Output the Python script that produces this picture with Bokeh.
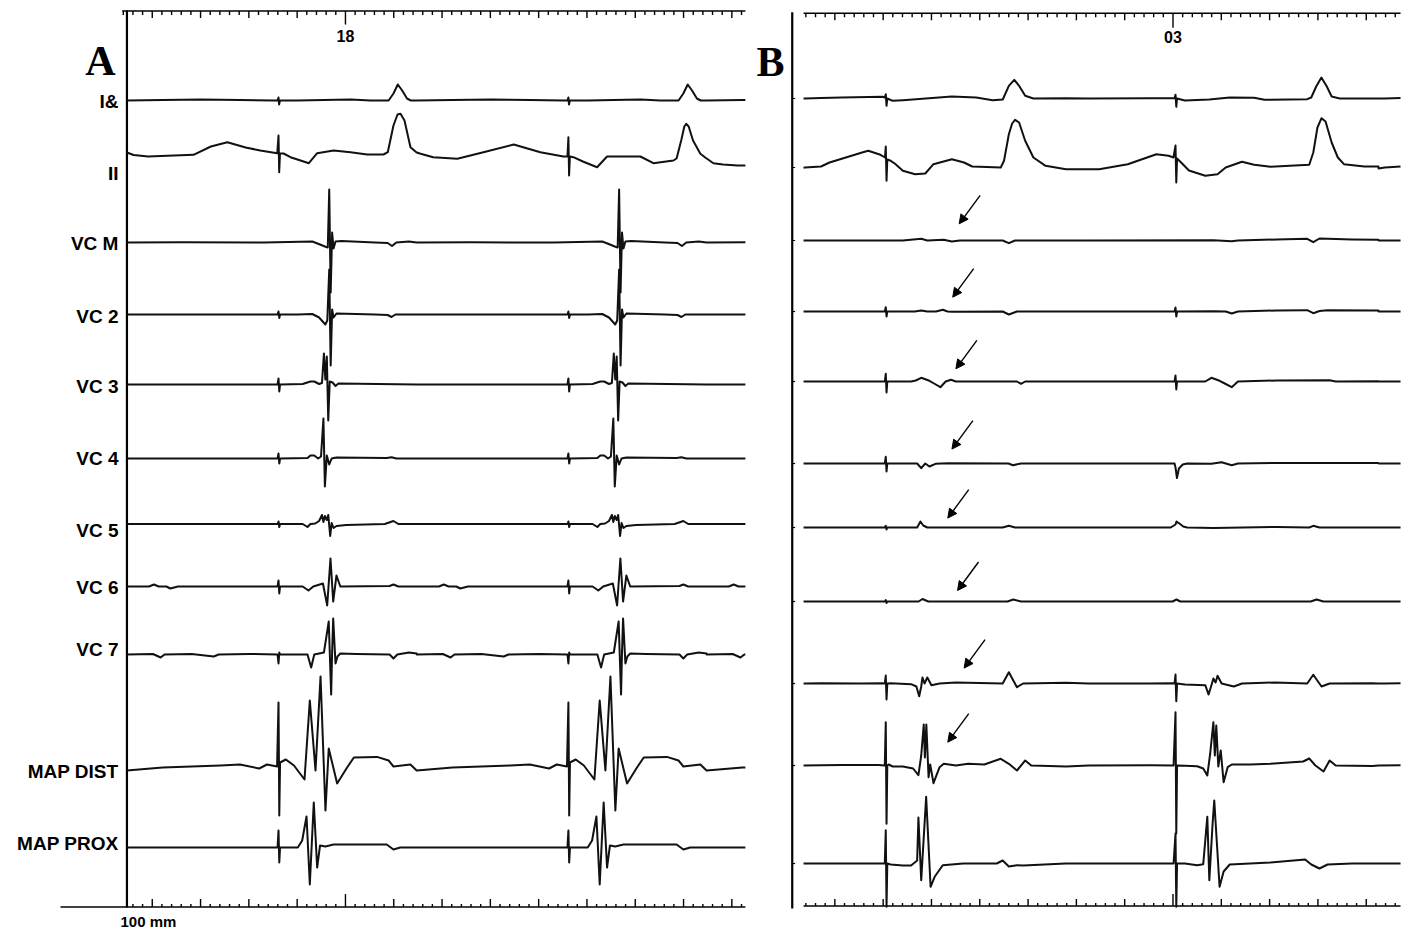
import numpy as np
from bokeh.plotting import figure
from bokeh.layouts import row
from bokeh.models import Range1d, ColumnDataSource, Arrow, NormalHead
from bokeh.core.properties import value
from bokeh.embed import file_html
from bokeh.resources import INLINE

# ---------------- data (time in ms, amplitude in mm of paper) ----------------
CHANNELS = ["I&", "II", "VC M", "VC 2", "VC 3", "VC 4", "VC 5", "VC 6", "VC 7", "MAP DIST", "MAP PROX"]

# panel A: pacing stimulus times (ms, 0 = the "18" mark); beat templates per lead
A_BEATS = [-69.3, 230.8, 530.9]
A_I = [(-157,0),(-120,0.05),(-80,0.1),(-40,0.05),(-5,0),(-1,0),(0,0.3),(0.6,-0.4),(1.5,0),(20,0),(60,0.08),(75,0.1),(95,0),(114,0),(119,0.7),(123.5,1.6),(128,1.0),(133,0.2),(137,0),(143,0)]
A_II = [(-157,0.3),(-150,0.05),(-135,-0.1),(-88,0.07),(-70,0.9),(-53,1.33),(-34,0.8),(-19,0.5),(-1.3,0.23),(0,2.0),(0.7,-1.67),(1.5,0.2),(5.2,0.2),(12.4,-0.17),(22.8,-0.5),(31.4,-0.77),(40,0.23),(57,0.5),(74.5,0.33),(91.8,0.1),(108.7,0.1),(113.1,0.33),(119,3.0),(123.2,4.1),(126.3,4.17),(130.4,3.5),(136.6,0.83),(143,0.3)]
A_II2 = [(-157,0.3),(-153,0.17),(-140,-0.17),(-115,-0.33),(-88,0.33),(-56.6,1.1),(-29,0.33),(-5.2,-0.1),(-1,-0.1),(0,1.83),(0.7,-2.0),(1.5,-0.1),(5.2,-0.17),(15,-0.6),(29.7,-1.17),(40,-0.1),(74.5,-0.1),(88,-0.77),(108.7,-0.5),(112,-0.3),(117,1.6),(120,2.9),(122,3.17),(124.5,2.9),(129,1.5),(136.6,0.17),(143,-0.3)]
A_II3 = [(-157,-0.3),(-150,-0.77),(-140,-0.9),(-125,-1.0),(-100,-1.0),(143,0)]
A_VCM = [(-157,0),(-100,0.02),(-15,0),(35,0.1),(43,-0.2),(48,-0.4),(51,-0.5),(52.5,5.3),(54,-5.0),(55.5,1.0),(57,-0.6),(59,0.1),(65,0.15),(100,0),(113,-0.05),(117.5,-0.35),(122,0),(135,0.1),(143,0)]
A_VC2 = [(-157,0),(-1,0),(0,0.3),(0.8,-0.35),(1.6,0),(20,0),(35,0.05),(42,-0.3),(48.5,-1.0),(50.5,-0.6),(52.5,4.5),(54,-5.1),(55.5,0.5),(57,-0.3),(60,0.1),(100,0),(113,-0.05),(117,-0.25),(121,0),(143,0)]
A_VC3 = [(-157,0),(-1,0),(0,0.6),(0.8,-0.7),(1.6,0),(25,0.05),(33,0.3),(37,0.3),(42,0.05),(45,0.15),(47,3.1),(48.5,0.5),(50,2.8),(51.5,-3.6),(53,0.3),(56,0.2),(59,-0.15),(62,0.1),(143,0)]
A_VC4 = [(-157,0),(-1,0),(0,0.5),(0.8,-0.5),(1.6,0),(30,0.05),(33,0.3),(37,0.3),(41,0),(44,0.2),(46.5,4.0),(48,-2.8),(50,0.3),(52.5,-0.6),(55,0),(60,0.1),(112,0.05),(117,0.12),(122,0),(143,0)]
A_VC5 = [(-157,0),(-1,0),(0,0.25),(0.8,-0.3),(1.6,0),(25,0),(30,-0.3),(33,0),(38,0.05),(42,0.3),(45,0.9),(46.5,0.2),(48,0.8),(50,0.4),(51.5,0.9),(53.5,-1.2),(55,0.1),(57,-0.4),(60,-0.2),(70,-0.1),(110,0),(119,0.3),(124,0),(143,0)]
A_VC6 = [(-157,0),(-134,0),(-129,0.2),(-124,0),(-116,0),(-112,-0.2),(-104,0),(-1,0),(0,0.6),(0.8,-0.7),(1.6,0),(25,0),(31,-0.4),(36,0),(46,0.3),(50.4,-1.9),(53.8,2.8),(56.6,-1.5),(60,1.1),(64,0),(115,0.05),(119,0.2),(124,0),(143,0)]
A_VC7 = [(-157,0),(-130,0.05),(-122,-0.3),(-118,0),(-90,0.05),(-67,-0.2),(-62,0),(-30,0.05),(-1,0),(0,-0.9),(0.8,0.2),(1.6,0),(30,0),(33.8,-1.3),(37,0),(47,0.2),(52,3.3),(54.5,-4.0),(55.5,0.3),(56.6,3.6),(59,-0.9),(61,-0.2),(64,0.1),(80,0.05),(115,0),(119,-0.4),(123,0),(135,0.2),(143,0.1)]
A_MAPD = [(-157,-0.2),(-120,0.1),(-60,0.3),(-40,0.4),(-20,0.0),(-12,0.4),(-1.5,0.2),(0,6.6),(0.8,-4.7),(1.6,0.6),(7.6,0.9),(16,0.3),(26.9,-1.1),(32.4,6.8),(38.3,-0.2),(43.5,9.2),(48.6,-4.2),(52,2.0),(60.7,-1.5),(71,0.1),(78,1.1),(102,1.16),(114,0.8),(119,0.2),(136.6,0.4),(143,-0.2)]
A_MAPP = [(-157,0),(-1,0),(0,1.7),(0.8,-1.5),(1.6,0),(20,0),(24.5,0.7),(29,3.1),(32.4,-3.7),(36.5,4.5),(40,-2.0),(43,0.2),(48.5,0.1),(57,0.3),(112,0.3),(119,-0.2),(126,0),(143,0)]

# panel B: pacing stimulus times (ms, 0 = the "03" mark); a template for beat 1 and beat 2
B_BEATS = [-297.3, 2.6, 302.8]
B1_I = [(-90,0),(-83.6,0),(-67,0.05),(-45.6,0.1),(-3.4,0.17),(-1,0.1),(0,0.43),(0.8,-0.73),(1.6,0),(7.2,-0.23),(17.7,-0.17),(68.4,0.2),(93.7,0.1),(110.6,-0.17),(121.1,-0.1),(127.4,1.27),(133,1.87),(138,1.27),(144.3,0.27),(152.8,0),(186.5,0.03),(210,0)]
B2_I = [(-90,0),(-28.3,0.03),(-7.2,0.03),(-1,0.03),(0,0.37),(0.8,-0.83),(1.6,0),(9.7,-0.2),(35,-0.1),(56.1,0.1),(81.4,0.07),(92,-0.13),(136.3,-0.07),(140.5,0.1),(145.6,1.2),(151,2.1),(156.6,1.2),(161.6,0.2),(170,0),(210,0)]
B1_II = [(-90,-0.1),(-83.6,0),(-67,0.1),(-58.2,0.5),(-24.5,1.5),(-18.1,1.67),(-5.5,1.27),(-0.8,1.0),(0,2.1),(0.8,-1.33),(1.6,0.8),(5.1,0.67),(9.3,0.4),(17.7,-0.33),(30.4,-0.67),(40.9,-0.6),(49.4,0.33),(68.4,0.83),(81,0.5),(89.5,0.1),(119,0),(122.4,0.67),(127.4,3.33),(130.8,4.4),(133.8,4.77),(138,4.5),(144.3,2.67),(152.8,1.0),(165.4,0.17),(186.5,-0.17),(210,-0.17)]
B2_II = [(-90,-0.17),(-79,-0.17),(-49.4,0.33),(-19.8,1.33),(-7.2,1.17),(-2.1,1.0),(0,2.2),(0.8,-1.5),(1.6,0.9),(7.6,0.33),(13.9,-0.3),(30.8,-0.83),(43.5,-0.67),(51.9,0),(68.8,0.57),(81.4,0.27),(98.3,0.07),(138.4,0.27),(142.6,1.5),(146.9,4.0),(151.1,4.93),(155.3,4.6),(161.6,2.5),(168,1.0),(174.3,0.33),(195.4,0.1),(210,0.1)]
B1_VCM = [(-90,0),(-67,0),(17.7,0),(36.7,0.17),(43,0),(60,0.07),(68.4,-0.1),(76.8,0),(121,0),(127.4,-0.27),(133.8,0),(210,0)]
B2_VCM = [(-90,0),(39.2,0.03),(58.2,-0.07),(64.6,0),(104.7,0.1),(136.3,0.17),(142.6,-0.17),(149,0.2),(182.7,0.1),(210,0.07)]
B1_VC2 = [(-90,0),(-67,0),(-1,0),(0,0.43),(0.8,-0.5),(1.6,0),(30,0),(36.7,0.1),(43,0),(52,0),(59,0.17),(64,0),(68.4,-0.03),(121,0),(127.4,-0.3),(135.8,0),(210,0)]
B2_VC2 = [(-90,0),(-1,0),(0,0.4),(0.8,-0.5),(1.6,0),(39.2,0.03),(52,0),(58.2,-0.2),(64.6,0),(104.7,0.1),(136.3,0.13),(142.6,-0.17),(149,0.05),(157.4,0.13),(210,0.1)]
B1_VC3 = [(-90,0),(-67,0),(-1,0),(0,0.77),(0.8,-1.1),(1.6,0),(26.2,0),(31,0.1),(36.7,0.37),(45.2,0.07),(50,-0.2),(56.5,-0.57),(62,0),(67.5,0.17),(72.6,0),(135.8,0),(140,-0.23),(144.3,0),(210,0)]
B2_VC3 = [(-90,0),(-1,0),(0,0.6),(0.8,-0.8),(1.6,0),(30.8,0),(37.1,0.37),(45.6,0.07),(51,-0.2),(58.2,-0.57),(64.6,0),(104.7,0.1),(159.5,0.13),(165.8,0),(210,0.03)]
B1_VC4 = [(-90,0),(-67,0),(-1,0),(0,0.67),(0.8,-0.8),(1.6,0),(32.5,0),(36.7,-0.47),(40.9,0),(45.2,-0.3),(51.5,-0.03),(64.1,0.03),(127,0),(131.7,-0.17),(140,0),(210,0)]
B2_VC4 = [(-90,0),(-1,0),(0,-0.4),(1.5,-1.45),(3.5,-0.5),(7.5,-0.1),(12,0),(37.1,-0.03),(47.7,0.13),(58.2,-0.17),(64.6,0),(104.7,0.05),(210,0.05)]
B1_VC5 = [(-90,0),(-67,0),(-1,0),(0,0.17),(0.8,-0.2),(1.6,0),(32.5,0),(35.9,0.6),(38.8,0.2),(43,0),(121,0),(127.4,0.17),(133.8,0),(210,0)]
B2_VC5 = [(-90,0),(-5,0),(0,0.3),(1,0.6),(4,0.4),(8,0.1),(12,0),(39.2,-0.05),(104.7,0.05),(138.4,0),(142.6,0.17),(149,0),(210,0)]
B1_VC6 = [(-90,0),(-67,0),(-1,0),(0,0.15),(0.8,-0.15),(1.6,0),(34,0),(38,0.25),(44,0),(126,0),(132,0.2),(140,0),(210,0)]
B2_VC6 = [(-90,0),(-3,0),(1,0.2),(5,0),(140,0),(146,0.2),(153,0),(210,0)]
B1_VC7 = [(-90,0),(-83.6,0),(-67,0.03),(-24.5,0),(-3.4,0.03),(-1,0),(0,0.8),(0.8,-1.6),(1.6,0),(5.1,0.03),(26.2,-0.07),(31.7,-0.3),(34.6,-1.27),(36.7,-0.3),(38,0.6),(40.1,0),(43,0.6),(47.3,-0.17),(55.7,0),(72.6,0.1),(121,0),(127.4,1.13),(135.8,-0.37),(142.2,0),(186.5,0.07),(210,0)]
B2_VC7 = [(-90,0),(-28.3,0),(-3,0.03),(-1,0),(0,0.9),(0.8,-1.77),(1.6,0),(9.7,-0.1),(30.8,-0.17),(34.2,-1.1),(37.1,-0.2),(39.2,0.5),(41.5,0.1),(43.5,0.77),(47.7,0),(60.4,-0.3),(68.8,0),(102.5,0.1),(136.3,0),(142.6,0.87),(151.1,-0.3),(159.5,0),(203.8,0.03),(210,0)]
B1_MAPD = [(-90,0),(-67,0.03),(-45.6,0.05),(-7.6,0.05),(-1,0),(0,4.33),(0.8,-5.83),(1.6,0),(3,0.1),(7.2,-0.1),(17.7,-0.1),(28.3,-0.3),(33.8,-0.97),(36.7,1.0),(39.3,4.1),(40.5,0.8),(42,4.1),(44.3,-1.17),(46,0.1),(49.4,-1.77),(55.7,-0.17),(60,0.17),(72.6,0),(85.3,0.17),(102,0.1),(119,0.67),(127.4,0.17),(135.8,-0.5),(144.3,0.5),(150.6,0),(186.5,-0.1),(210,0)]
B2_MAPD = [(-90,0),(-25,0.03),(-2,0),(0,5.33),(0.8,-6.8),(1.6,0),(9.7,-0.03),(22.4,-0.07),(28.7,-0.3),(32.9,-1.0),(35.9,1.2),(39.2,4.33),(40.7,1.0),(42.2,4.0),(44.3,-0.1),(46.8,1.5),(49.8,-1.67),(54,-0.17),(58.2,0.1),(77.2,0.1),(98.3,0.17),(132.1,0.4),(138.4,0.7),(144.8,0),(153.2,-0.6),(159.5,0.5),(165.8,0),(203.8,-0.05),(210,0)]
B1_MAPP = [(-90,0),(-67,0),(-40,0),(-1,0),(0,3.33),(0.8,-4.33),(1.6,0),(5.1,-0.1),(17.7,-0.2),(26.2,-0.2),(32.5,0.3),(33.8,4.6),(36.7,-1.67),(41.8,6.67),(46.4,-2.33),(50.6,-1.33),(59,-0.17),(80.2,0),(114.8,0),(121,0.3),(127.4,-0.3),(135.8,-0.17),(142.2,-0.2),(186.5,0),(210,0)]
B2_MAPP = [(-90,0),(-2,0),(0,3.0),(0.8,-4.33),(1.6,0),(9.7,0),(22.4,-0.17),(28.7,-0.07),(32.9,4.67),(35,-1.67),(38.4,4.0),(40.1,6.3),(45.6,-2.33),(49.8,-0.8),(56.1,-0.1),(98.3,0.1),(134.2,0.4),(140.5,-0.1),(149,-0.5),(157.4,-0.1),(182.7,0),(210,0)]

# arrows in panel B: lead pointed at and tip time (ms)
ARROW_LEADS = ["VC M", "VC 2", "VC 3", "VC 4", "VC 5", "VC 6", "VC 7", "MAP DIST"]
ARROW_TIP_T = [-221.3, -228.0, -224.7, -228.8, -233.1, -223.0, -216.2, -233.1]

RULER_A_LABEL = "18"
RULER_B_LABEL = "03"
SPEED_LABEL = "100 mm"

# ---------------- layout (positions, not data) ----------------
A_ROWS = [82.2, 76.7, 68.0, 60.8, 53.8, 46.4, 39.85, 33.6, 26.8, 15.4, 7.5]
A_LABEL_Y = [82.1, 74.9, 67.9, 60.6, 53.6, 46.4, 39.2, 33.5, 27.3, 15.1, 7.9]
B_ROWS = [82.4, 75.5, 68.2, 61.1, 54.1, 45.9, 39.5, 32.1, 23.9, 15.7, 5.9]
ARROW_TIP_DY = [1.67, 1.43, 1.27, 1.44, 0.94, 1.1, 1.54, 2.33]
PX_PER_MS = 0.966
PX_PER_UNIT = 10.0
H = 928
Y_RANGE = (-0.6, 92.2)

A_TPL = {c: t for c, t in zip(CHANNELS, [[A_I], [A_II, A_II2, A_II3], [A_VCM], [A_VC2], [A_VC3], [A_VC4],
                                          [A_VC5], [A_VC6], [A_VC7], [A_MAPD], [A_MAPP]])}
B_TPL = {c: t for c, t in zip(CHANNELS, [[B1_I, B2_I], [B1_II, B2_II], [B1_VCM, B2_VCM], [B1_VC2, B2_VC2],
                                          [B1_VC3, B2_VC3], [B1_VC4, B2_VC4], [B1_VC5, B2_VC5], [B1_VC6, B2_VC6],
                                          [B1_VC7, B2_VC7], [B1_MAPD, B2_MAPD], [B1_MAPP, B2_MAPP]])}


def build_trace(beats, tpls, t0, t1):
    ts, vs = [], []
    for k, s in enumerate(beats):
        tpl = tpls[k % len(tpls)]
        for off, v in tpl:
            ts.append(s + off)
            vs.append(v)
    ts = np.array(ts)
    vs = np.array(vs)
    order = np.argsort(ts, kind="stable")
    ts, vs = ts[order], vs[order]
    inside = (ts > t0) & (ts < t1)
    tt = np.concatenate([[t0], ts[inside], [t1]])
    vv = np.concatenate([[np.interp(t0, ts, vs)], vs[inside], [np.interp(t1, ts, vs)]])
    return tt, vv


def make_fig(width, xr):
    p = figure(width=width, height=H, x_range=Range1d(*xr), y_range=Range1d(*Y_RANGE),
               output_backend="svg", toolbar_location=None, min_border=0,
               x_axis_location=None, y_axis_location=None)
    p.outline_line_color = None
    p.grid.visible = False
    p.background_fill_color = "white"
    p.border_fill_color = "white"
    return p


def ruler(p, t_from, t_to, y, direction, tick_ts, long_t, minor_px, major_px, long_px):
    p.line([t_from, t_to], [y, y], line_color="black", line_width=1.6)
    lens = []
    for t in tick_ts:
        if abs(t - long_t) < 1e-6:
            lens.append(long_px)
        elif int(round(t)) % 50 == 0:
            lens.append(major_px)
        else:
            lens.append(minor_px)
    lens = np.array(lens) / PX_PER_UNIT
    p.segment(x0=tick_ts, y0=[y] * len(tick_ts), x1=tick_ts, y1=y + direction * lens,
              line_color="black", line_width=1.4)


SANS = value("Liberation Sans")
SERIF = value("Liberation Serif")
TRACE_W = 2.0

# ---------------- panel A ----------------
pa = make_fig(750, (-357.1, 419.3))
A_AXIS_T = -226.2
A_T0, A_T1 = -226.3, 414.0
pa.line([A_AXIS_T, A_AXIS_T], [1.5, 91.2], line_color="black", line_width=2.2)
ruler(pa, -231.1, 414.0, 91.15, -1, np.arange(-230, 411, 10), 0, 4, 7, 13.5)
ruler(pa, -295.0, 414.0, 1.55, 1, np.arange(-220, 411, 10), 0, 3, 8, 13)
for c, base in zip(CHANNELS, A_ROWS):
    tt, vv = build_trace(A_BEATS, A_TPL[c], A_T0, A_T1)
    pa.line(tt, base + vv, line_color="#111111", line_width=TRACE_W, line_join="round")
pa.text(x=[A_AXIS_T] * len(CHANNELS), y=A_LABEL_Y, text=CHANNELS, text_font=SANS, text_font_size="19px",
        text_font_style="bold", text_align="right", text_baseline="middle", x_offset=-8.5, text_color="black")
pa.text(x=[0], y=[88.65], text=[RULER_A_LABEL], text_font=SANS, text_font_size="16px", text_font_style="bold",
        text_align="center", text_baseline="middle", text_color="black")
pa.text(x=[-232.9], y=[0.15], text=[SPEED_LABEL], text_font=SANS, text_font_size="15px", text_font_style="bold",
        text_align="left", text_baseline="alphabetic", text_color="black")
pa.text(x=[-253.6], y=[86.2], text=["A"], text_font=SERIF, text_font_size="42px", text_font_style="bold",
        text_align="center", text_baseline="alphabetic", text_color="black")

# ---------------- panel B ----------------
pb = make_fig(661, (-437.3, 246.85))
B_AXIS_T = -394.1
B_T0, B_T1 = -382.4, 235.5
pb.line([B_AXIS_T, B_AXIS_T], [1.4, 91.03], line_color="black", line_width=2.2)
pb.segment(x0=[B_AXIS_T] * len(B_ROWS), y0=B_ROWS, x1=[B_AXIS_T + 3.0] * len(B_ROWS), y1=B_ROWS,
           line_color="black", line_width=1.2)
ruler(pb, -382.4, 235.5, 90.93, -1, np.arange(-380, 231, 10), 0, 4, 7, 14.6)
ruler(pb, -382.4, 235.5, 1.65, 1, np.arange(-380, 231, 10), 0, 3, 7, 12)
for c, base in zip(CHANNELS, B_ROWS):
    tt, vv = build_trace(B_BEATS, B_TPL[c], B_T0, B_T1)
    pb.line(tt, base + vv, line_color="#111111", line_width=TRACE_W, line_join="round")
pb.text(x=[0], y=[88.57], text=[RULER_B_LABEL], text_font=SANS, text_font_size="16px", text_font_style="bold",
        text_align="center", text_baseline="middle", text_color="black")
pb.text(x=[-416.6], y=[86.03], text=["B"], text_font=SERIF, text_font_size="42px", text_font_style="bold",
        text_align="center", text_baseline="alphabetic", text_color="black")

row_of = {c: b for c, b in zip(CHANNELS, B_ROWS)}
tip_y = [row_of[c] + dy for c, dy in zip(ARROW_LEADS, ARROW_TIP_DY)]
arrow_src = ColumnDataSource(dict(
    x_start=[t + 21.7 for t in ARROW_TIP_T], y_start=[y + 2.85 for y in tip_y],
    x_end=ARROW_TIP_T, y_end=tip_y))
pb.add_layout(Arrow(end=NormalHead(size=9, fill_color="black", line_color="black", line_width=1),
                    x_start="x_start", y_start="y_start", x_end="x_end", y_end="y_end",
                    source=arrow_src, line_color="black", line_width=1.4))

layout = row(pa, pb)
open("out.html", "w").write(file_html(layout, INLINE))
